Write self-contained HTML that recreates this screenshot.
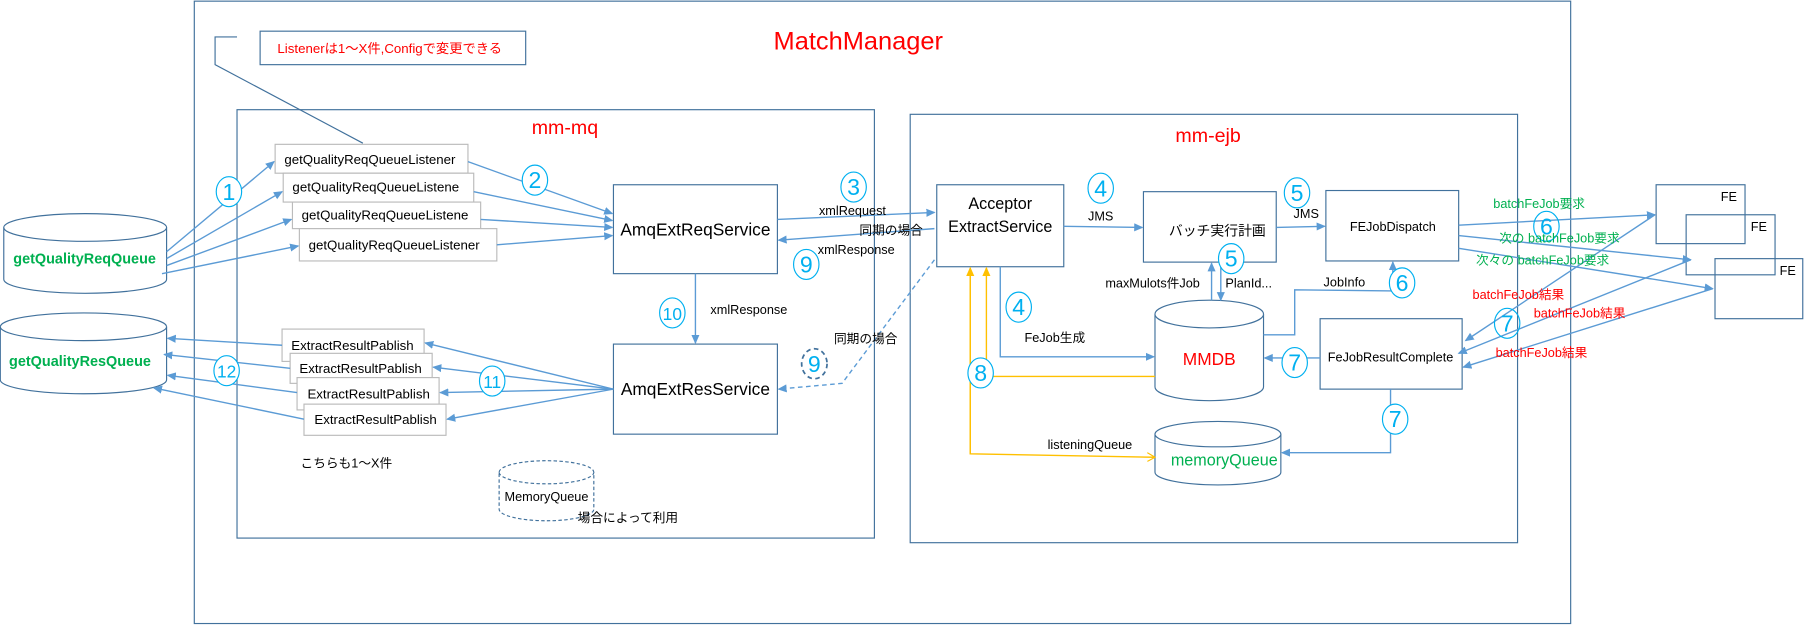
<!DOCTYPE html>
<html><head><meta charset="utf-8"><style>
html,body{margin:0;padding:0;background:#fff;}
svg{display:block;}
text{font-family:"Liberation Sans","Noto Sans CJK JP",sans-serif;}
</style></head><body>
<svg width="1810" height="642" viewBox="0 0 1567 556" xmlns="http://www.w3.org/2000/svg">
<defs>
<marker id="a" markerWidth="8" markerHeight="8" refX="7" refY="4" orient="auto" markerUnits="userSpaceOnUse"><path d="M0,0.5 L8,4 L0,7.5 Z" fill="#5b9bd5"/></marker>
<marker id="o" markerWidth="8" markerHeight="8" refX="7" refY="4" orient="auto" markerUnits="userSpaceOnUse"><path d="M0,0.5 L8,4 L0,7.5 Z" fill="#ffc000"/></marker>
<marker id="ov" markerWidth="8" markerHeight="8" refX="7" refY="4" orient="auto" markerUnits="userSpaceOnUse"><path d="M0,0 L7,4 L0,8" fill="none" stroke="#ffc000"/></marker>
</defs>
<g fill="none" stroke="#41719c" stroke-width="1">
<rect x="168" y="1" width="1192" height="539"/>
<rect x="205" y="95" width="552" height="371"/>
<rect x="788" y="99" width="526" height="371"/>
<rect x="225" y="27" width="230" height="29"/>
<polyline points="205,32 186,32 186,56 314,124" stroke="#41719c"/>
<rect x="531" y="160" width="142" height="77"/>
<rect x="531" y="298" width="142" height="78"/>
<rect x="811" y="160" width="110" height="71"/>
<rect x="990" y="166" width="115" height="61"/>
<rect x="1148" y="165" width="115" height="61"/>
<rect x="1143" y="276" width="123" height="61"/>
<rect x="1434" y="160" width="77" height="51"/>
<rect x="1460" y="186" width="77" height="52"/>
<rect x="1485" y="224" width="76" height="52"/>
</g>
<!-- listener boxes -->
<g fill="#fff" stroke="#bbbbbb">
<rect x="238" y="125" width="167" height="25"/>
<rect x="245" y="150" width="165" height="25"/>
<rect x="253" y="175" width="163" height="23"/>
<rect x="259" y="198" width="171" height="28"/>
<rect x="244" y="285" width="123" height="28"/>
<rect x="251" y="306" width="123" height="26"/>
<rect x="257" y="327" width="123" height="28"/>
<rect x="263" y="350" width="123" height="27"/>
</g>
<g font-size="11.5" fill="#000">
<text x="246" y="142">getQualityReqQueueListener</text>
<text x="253" y="166">getQualityReqQueueListene</text>
<text x="261" y="190">getQualityReqQueueListene</text>
<text x="267" y="216">getQualityReqQueueListener</text>
<text x="252" y="303">ExtractResultPablish</text>
<text x="259" y="323">ExtractResultPablish</text>
<text x="266" y="345">ExtractResultPablish</text>
<text x="272" y="367">ExtractResultPablish</text>
</g>
<!-- cylinders -->
<g fill="#fff" stroke="#41719c">
<path d="M3,197 A70.5,12 0 0 1 144,197 L144,242 A70.5,12 0 0 1 3,242 Z"/>
<path d="M3,197 A70.5,12 0 0 0 144,197"/>
<path d="M0,283 A72,12 0 0 1 144,283 L144,329 A72,12 0 0 1 0,329 Z"/>
<path d="M0,283 A72,12 0 0 0 144,283"/>
<path d="M1000,272 A47,12 0 0 1 1094,272 L1094,335 A47,12 0 0 1 1000,335 Z"/>
<path d="M1000,272 A47,12 0 0 0 1094,272"/>
<path d="M1000,376 A54.5,11 0 0 1 1109,376 L1109,409 A54.5,11 0 0 1 1000,409 Z"/>
<path d="M1000,376 A54.5,11 0 0 0 1109,376"/>
<g stroke-dasharray="3,2"><path d="M432,409 A41,10 0 0 1 514,409 L514,441 A41,10 0 0 1 432,441 Z"/><path d="M432,409 A41,10 0 0 0 514,409"/></g>
</g>
<!-- connectors -->
<g fill="none" stroke="#5b9bd5" stroke-width="1.2" marker-end="url(#a)">
<line x1="144" y1="218" x2="237" y2="140"/>
<line x1="144" y1="224" x2="244" y2="166"/>
<line x1="144" y1="230" x2="252" y2="190"/>
<line x1="140" y1="237" x2="258" y2="213"/>
<line x1="405" y1="140" x2="530" y2="185"/>
<line x1="410" y1="166" x2="530" y2="191"/>
<line x1="416" y1="190" x2="530" y2="197"/>
<line x1="430" y1="212" x2="530" y2="204"/>
<line x1="673" y1="190" x2="809" y2="184"/>
<line x1="809" y1="198" x2="674" y2="208"/>
<line x1="602" y1="237" x2="602" y2="297"/>
<line x1="531" y1="337" x2="368" y2="297"/>
<line x1="531" y1="337" x2="375" y2="318"/>
<line x1="531" y1="337" x2="381" y2="340"/>
<line x1="531" y1="337" x2="387" y2="363"/>
<line x1="244" y1="299" x2="145" y2="293"/>
<line x1="251" y1="319" x2="142" y2="307"/>
<line x1="257" y1="340" x2="145" y2="325"/>
<line x1="263" y1="363" x2="133" y2="336"/>
<line x1="921" y1="196" x2="989" y2="197"/>
<line x1="1105" y1="197" x2="1147" y2="196"/>
<line x1="1049" y1="260" x2="1049" y2="228"/>
<line x1="1057" y1="228" x2="1057" y2="260"/>
<polyline points="1094,290 1121,290 1121,251 1206,252 1206,227"/>
<polyline points="866,231 866,309 999,309"/>
<line x1="1143" y1="310" x2="1095" y2="310"/>
<polyline points="1204,337 1204,392 1110,392"/>
<line x1="1263" y1="195" x2="1433" y2="186"/>
<line x1="1263" y1="204" x2="1464" y2="225"/>
<line x1="1263" y1="215" x2="1483" y2="250"/>
<line x1="1433" y1="186" x2="1269" y2="295"/>
<line x1="1464" y1="225" x2="1263" y2="306"/>
<line x1="1483" y1="250" x2="1267" y2="318"/>
<polyline points="809,225 729,332 674,337" stroke-dasharray="4,3"/>
</g>
<g fill="none" stroke="#ffc000" stroke-width="1.2">
<polyline points="1000,326 854,326 854,232" marker-end="url(#o)"/>
<polyline points="840,232 840,393 1000,396" marker-end="url(#ov)"/>
<line x1="840" y1="393" x2="840" y2="232" marker-end="url(#o)"/>
</g>
<!-- circled numbers -->
<g fill="#fff" stroke="#00b0f0" stroke-width="1">
<ellipse cx="198" cy="166" rx="11" ry="13"/>
<ellipse cx="463" cy="156" rx="11" ry="13"/>
<ellipse cx="739" cy="162" rx="11" ry="13"/>
<ellipse cx="698" cy="229" rx="11" ry="13"/>
<ellipse cx="582" cy="271" rx="11" ry="13"/>
<ellipse cx="196" cy="321" rx="11" ry="13"/>
<ellipse cx="426" cy="330" rx="11" ry="13"/>
<ellipse cx="705" cy="315" rx="11" ry="13" stroke="#41719c" stroke-dasharray="4,3" stroke-width="1.5"/>
<ellipse cx="953" cy="163" rx="11" ry="13"/>
<ellipse cx="1123" cy="167" rx="11" ry="13"/>
<ellipse cx="1066" cy="224" rx="11" ry="13"/>
<ellipse cx="1214" cy="245" rx="11" ry="13"/>
<ellipse cx="882" cy="266" rx="11" ry="13"/>
<ellipse cx="849" cy="323" rx="11" ry="13"/>
<ellipse cx="1121" cy="314" rx="11" ry="13"/>
<ellipse cx="1208" cy="363" rx="11" ry="13"/>
<ellipse cx="1339" cy="196" rx="11" ry="13" fill="none"/>
<ellipse cx="1305" cy="280" rx="11" ry="13" fill="none"/>
</g>
<g fill="#00b0f0" font-size="20" text-anchor="middle">
<text x="198" y="173">1</text><text x="463" y="163">2</text><text x="739" y="169">3</text>
<text x="698" y="236">9</text><text x="582" y="277" font-size="15">10</text>
<text x="196" y="327" font-size="15">12</text><text x="426" y="336" font-size="15">11</text>
<text x="705" y="322">9</text><text x="953" y="170">4</text><text x="1123" y="174">5</text>
<text x="1066" y="231">5</text><text x="1214" y="252">6</text><text x="882" y="273">4</text>
<text x="849" y="330">8</text><text x="1121" y="321">7</text><text x="1208" y="370">7</text>
<text x="1339" y="203">6</text><text x="1305" y="287">7</text>
</g>
<!-- labels -->
<text x="240" y="46" font-size="11.5" fill="#ff0000">Listenerは1～X件,Configで変更できる</text>
<text x="743" y="43" font-size="22" fill="#ff0000" text-anchor="middle">MatchManager</text>
<text x="489" y="116" font-size="17" fill="#ff0000" text-anchor="middle">mm-mq</text>
<text x="1046" y="123" font-size="17" fill="#ff0000" text-anchor="middle">mm-ejb</text>
<text x="73" y="228" font-size="12.5" font-weight="bold" fill="#00b050" text-anchor="middle">getQualityReqQueue</text>
<text x="69" y="317" font-size="12.5" font-weight="bold" fill="#00b050" text-anchor="middle">getQualityResQueue</text>
<text x="602" y="204" font-size="15" text-anchor="middle">AmqExtReqService</text>
<text x="602" y="342" font-size="15" text-anchor="middle">AmqExtResService</text>
<text x="866" y="181" font-size="14" text-anchor="middle">Acceptor</text>
<text x="866" y="201" font-size="14" text-anchor="middle">ExtractService</text>
<text x="1054" y="204" font-size="12" text-anchor="middle">バッチ実行計画</text>
<text x="1206" y="200" font-size="11" text-anchor="middle">FEJobDispatch</text>
<text x="1204" y="313" font-size="11" text-anchor="middle">FeJobResultComplete</text>
<text x="1047" y="316" font-size="15" fill="#ff0000" text-anchor="middle">MMDB</text>
<text x="1060" y="403" font-size="14" fill="#00b050" text-anchor="middle">memoryQueue</text>
<text x="473" y="434" font-size="11" text-anchor="middle">MemoryQueue</text>
<text x="500" y="452" font-size="11">場合によって利用</text>
<text x="260" y="405" font-size="11">こちらも1～X件</text>
<g font-size="11">
<text x="709" y="186">xmlRequest</text>
<text x="744" y="203">同期の場合</text>
<text x="708" y="220">xmlResponse</text>
<text x="615" y="272">xmlResponse</text>
<text x="722" y="297">同期の場合</text>
<text x="942" y="191">JMS</text>
<text x="1120" y="189">JMS</text>
<text x="957" y="249">maxMulots件Job</text>
<text x="1061" y="249">PlanId...</text>
<text x="1146" y="248">JobInfo</text>
<text x="887" y="296">FeJob生成</text>
<text x="907" y="389">listeningQueue</text>
<text x="1490" y="174">FE</text>
<text x="1516" y="200">FE</text>
<text x="1541" y="238">FE</text>
</g>
<g font-size="11" fill="#00b050">
<text x="1293" y="180">batchFeJob要求</text>
<text x="1298" y="210">次の batchFeJob要求</text>
<text x="1278" y="229">次々の batchFeJob要求</text>
</g>
<g font-size="11" fill="#ff0000">
<text x="1275" y="259">batchFeJob結果</text>
<text x="1328" y="275">batchFeJob結果</text>
<text x="1295" y="309">batchFeJob結果</text>
</g>
</svg>
</body></html>
